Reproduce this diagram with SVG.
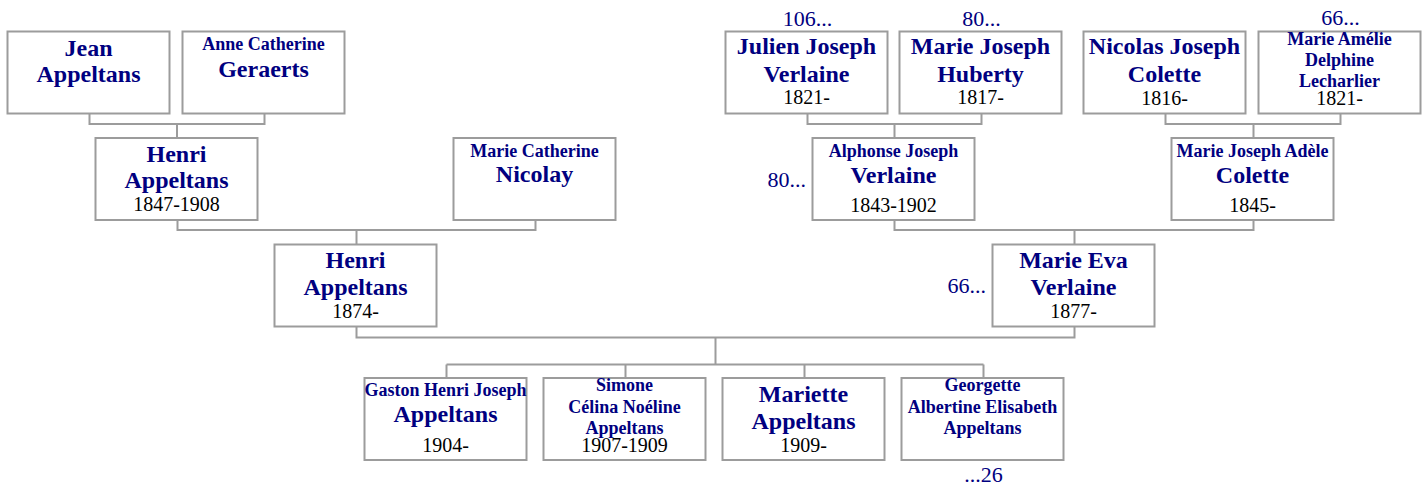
<svg xmlns="http://www.w3.org/2000/svg" width="1424" height="489" viewBox="0 0 1424 489">
<style>
.box{fill:#fff;stroke:#9c9c9c;stroke-width:2}
.ln{fill:none;stroke:#9c9c9c;stroke-width:2}
text{font-family:"Liberation Serif","Times New Roman",serif;text-anchor:middle}
.b{font-weight:bold;font-size:24px;fill:#000080}
.s{font-weight:bold;font-size:18px;fill:#000080}
.d{font-size:20px;fill:#000}
.n{font-size:22px;fill:#000080}
</style>
<rect width="1424" height="489" fill="#fff"/>
<g id="connectors">
<path class="ln" d="M89.5 114V124H264.5V114M177 124V138"/>
<path class="ln" d="M177.5 220V230H535.5V220M356.5 230V244"/>
<path class="ln" d="M807.5 114V124H981.5V114M894.5 124V138"/>
<path class="ln" d="M1165.5 114V124H1340.5V114M1253.5 124V138"/>
<path class="ln" d="M894.5 220V230H1253.5V220M1074.5 230V244"/>
<path class="ln" d="M356.5 326V337.5H1074.5V326M715.5 337.5V364.5"/>
<path class="ln" d="M446.5 364.5H983.5M446.5 364.5V378M625.5 364.5V378M804.5 364.5V378M983.5 364.5V378"/>
</g>
<g id="jean">
<rect class="box" x="7.5" y="31.5" width="162" height="82"/>
<text class="b" x="88.5" y="55.5">Jean</text>
<text class="b" x="88.5" y="82">Appeltans</text>
</g>
<g id="anne">
<rect class="box" x="182.5" y="31.5" width="162" height="82"/>
<text class="s" x="263.5" y="50">Anne Catherine</text>
<text class="b" x="263.5" y="76.5">Geraerts</text>
</g>
<g id="julien">
<rect class="box" x="725.5" y="31.5" width="162" height="82"/>
<text class="b" x="806.5" y="54.3">Julien Joseph</text>
<text class="b" x="806.5" y="81.7">Verlaine</text>
<text class="d" x="806.5" y="104">1821-</text>
<text class="n" x="807.5" y="26">106...</text>
</g>
<g id="huberty">
<rect class="box" x="899.5" y="31.5" width="162" height="82"/>
<text class="b" x="980.5" y="54.3">Marie Joseph</text>
<text class="b" x="980.5" y="81.7">Huberty</text>
<text class="d" x="980.5" y="104">1817-</text>
<text class="n" x="981.5" y="26">80...</text>
</g>
<g id="nicolas">
<rect class="box" x="1083.5" y="31.5" width="162" height="82"/>
<text class="b" x="1164.5" y="54.3">Nicolas Joseph</text>
<text class="b" x="1164.5" y="81.7">Colette</text>
<text class="d" x="1164.5" y="105">1816-</text>
</g>
<g id="amelie">
<rect class="box" x="1258.5" y="31.5" width="162" height="82"/>
<text class="s" x="1339.5" y="45">Marie Amélie</text>
<text class="s" x="1339.5" y="65.7">Delphine</text>
<text class="s" x="1339.5" y="86.7">Lecharlier</text>
<text class="d" x="1339.5" y="105">1821-</text>
<text class="n" x="1340.5" y="25">66...</text>
</g>
<g id="henri1847">
<rect class="box" x="95.5" y="138" width="162" height="82"/>
<text class="b" x="176.5" y="161.7">Henri</text>
<text class="b" x="176.5" y="188.3">Appeltans</text>
<text class="d" x="176.5" y="211">1847-1908</text>
</g>
<g id="nicolay">
<rect class="box" x="453.5" y="138" width="162" height="82"/>
<text class="s" x="534.5" y="156.7">Marie Catherine</text>
<text class="b" x="534.5" y="182.3">Nicolay</text>
</g>
<g id="alphonse">
<rect class="box" x="812.5" y="138" width="162" height="82"/>
<text class="s" x="893.5" y="156.7">Alphonse Joseph</text>
<text class="b" x="893.5" y="182.7">Verlaine</text>
<text class="d" x="893.5" y="211.7">1843-1902</text>
<text class="n" x="806" y="187" style="text-anchor:end">80...</text>
</g>
<g id="adele">
<rect class="box" x="1171.5" y="138" width="162" height="82"/>
<text class="s" x="1252.5" y="156.7">Marie Joseph Adèle</text>
<text class="b" x="1252.5" y="182.7">Colette</text>
<text class="d" x="1252.5" y="211.7">1845-</text>
</g>
<g id="henri1874">
<rect class="box" x="274.5" y="244.5" width="162" height="82"/>
<text class="b" x="355.5" y="268.3">Henri</text>
<text class="b" x="355.5" y="295">Appeltans</text>
<text class="d" x="355.5" y="318.3">1874-</text>
</g>
<g id="marieeva">
<rect class="box" x="992.5" y="244.5" width="162" height="82"/>
<text class="b" x="1073.5" y="268.3">Marie Eva</text>
<text class="b" x="1073.5" y="295">Verlaine</text>
<text class="d" x="1073.5" y="318.3">1877-</text>
<text class="n" x="986" y="293" style="text-anchor:end">66...</text>
</g>
<g id="gaston">
<rect class="box" x="364.5" y="378" width="162" height="82"/>
<text class="s" x="445.5" y="396">Gaston Henri Joseph</text>
<text class="b" x="445.5" y="421.7">Appeltans</text>
<text class="d" x="445.5" y="451.7">1904-</text>
</g>
<g id="simone">
<rect class="box" x="543.5" y="378" width="162" height="82"/>
<text class="s" x="624.5" y="391">Simone</text>
<text class="s" x="624.5" y="412.7">Célina Noéline</text>
<text class="s" x="624.5" y="434">Appeltans</text>
<text class="d" x="624.5" y="451.7">1907-1909</text>
</g>
<g id="mariette">
<rect class="box" x="722.5" y="378" width="162" height="82"/>
<text class="b" x="803.5" y="401.7">Mariette</text>
<text class="b" x="803.5" y="429">Appeltans</text>
<text class="d" x="803.5" y="451.7">1909-</text>
</g>
<g id="georgette">
<rect class="box" x="901.5" y="378" width="162" height="82"/>
<text class="s" x="982.5" y="391">Georgette</text>
<text class="s" x="982.5" y="413.3">Albertine Elisabeth</text>
<text class="s" x="982.5" y="434">Appeltans</text>
<text class="n" x="983.5" y="481.7">...26</text>
</g>
</svg>
